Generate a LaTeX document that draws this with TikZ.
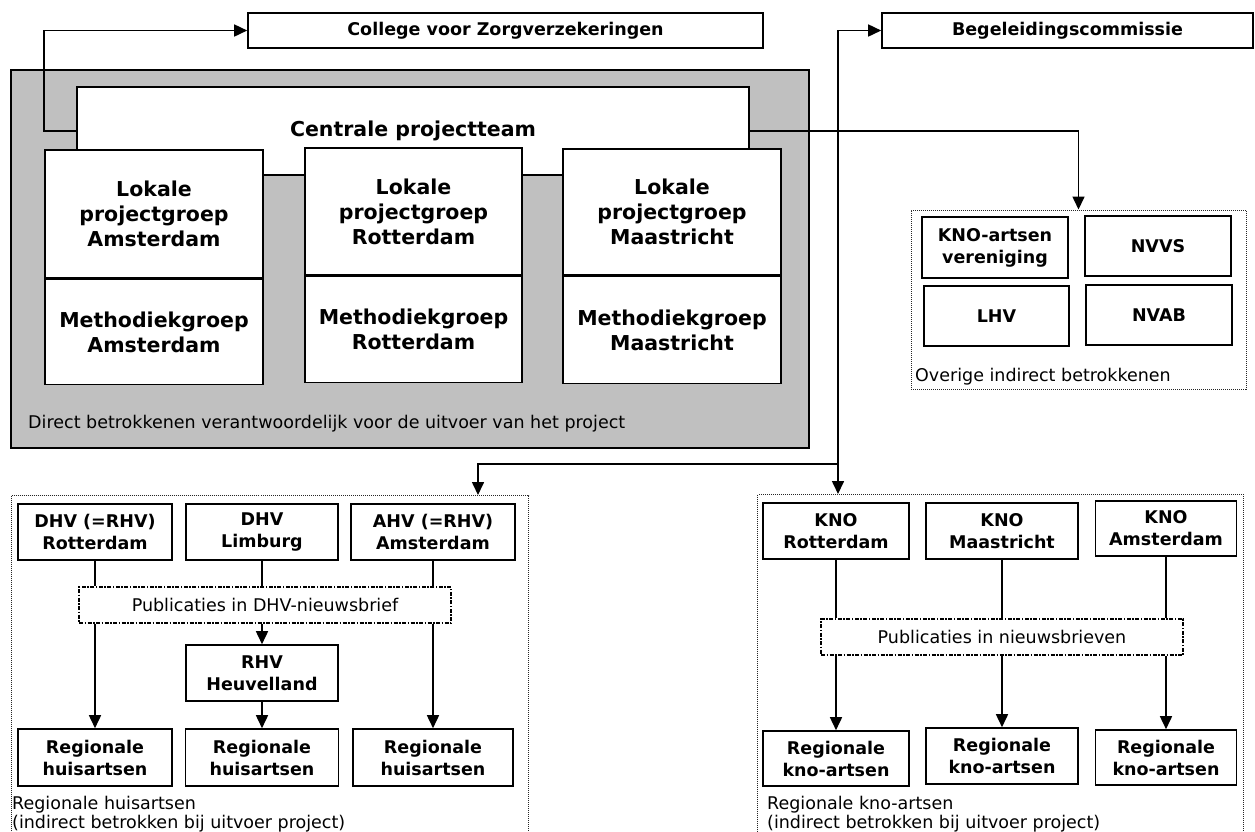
\documentclass[tikz,border=0pt]{standalone}
\usepackage{fontspec}
\setmainfont{DejaVu Sans}
\usetikzlibrary{arrows.meta,positioning}
\definecolor{panelgray}{HTML}{C0C0C0}
\newcommand\bigbold{\fontsize{20.5}{25}\selectfont\bfseries}
\newcommand\smallbold{\fontsize{17.5}{22}\selectfont\bfseries}
\newcommand\plaintxt{\fontsize{17.5}{19.5}\selectfont}

\begin{document}
\begin{tikzpicture}[x = 1pt, y = -1pt,
    box/.style = {draw, fill = white, line width = 1.6pt, align = center, inner sep = 0pt, font = \smallbold},
    bigbox/.style = {box, font = \bigbold},
    grp/.style = {draw = black!85, line width = 1pt, dash pattern = on 1pt off 1pt},
    pub/.style = {draw, fill = white, line width = 1.6pt, dash pattern = on 4pt off 1.5pt on 1.5pt off 1.5pt, inner sep = 0pt, font = \plaintxt},
    note/.style = {anchor = west, align = left, inner sep = 0pt, font = \plaintxt},
    lin/.style = {line width = 1.6pt},
    arr/.style = {line width = 1.6pt, -{Triangle[length = 13pt, width = 12pt]}}]
    \useasboundingbox[fill = white] (0,0) rectangle (1255,831);

    % direct betrokkenen
    \draw[fill = panelgray, line width = 1.6pt] (11,70) rectangle (809,448);
    \node[note] (direct) at (28,424) {Direct betrokkenen verantwoordelijk voor de uitvoer van het project};
    \node[bigbox, minimum width = 672pt, minimum height = 88pt] (cpt) at (413,131) {Centrale projectteam};
    \node[bigbox, minimum width = 218pt, minimum height = 128pt] (lokA) at (154,214) {Lokale\\projectgroep\\Amsterdam};
    \node[bigbox, minimum width = 218pt, minimum height = 105pt, below = 0pt of lokA] (metA) {Methodiekgroep\\Amsterdam};
    \node[bigbox, minimum width = 217pt, minimum height = 127pt] (lokR) at (413.5,211.5) {Lokale\\projectgroep\\Rotterdam};
    \node[bigbox, minimum width = 217pt, minimum height = 106pt, below = 0pt of lokR] (metR) {Methodiekgroep\\Rotterdam};
    \node[bigbox, minimum width = 218pt, minimum height = 126pt] (lokM) at (672,212) {Lokale\\projectgroep\\Maastricht};
    \node[bigbox, minimum width = 218pt, minimum height = 107pt, below = 0pt of lokM] (metM) {Methodiekgroep\\Maastricht};

    % top
    \node[box, minimum width = 515pt, minimum height = 35pt] (cvz) at (505.5,30.5) {College voor Zorgverzekeringen};
    \node[box, minimum width = 371pt, minimum height = 35pt] (bgc) at (1067.5,30.5) {Begeleidingscommissie};

    % overige
    \node[grp, minimum width = 335pt, minimum height = 179pt] (ovr) at (1078.5,299.5) {};
    \node[note] (ovrlab) at (915,377) {Overige indirect betrokkenen};
    \node[box, minimum width = 146pt, minimum height = 61pt] (knov) at (995,247.5) {KNO-artsen\\vereniging};
    \node[box, minimum width = 146pt, minimum height = 60pt] (nvvs) at (1158,246) {NVVS};
    \node[box, minimum width = 145pt, minimum height = 60pt] (lhv) at (996.5,316) {LHV};
    \node[box, minimum width = 146pt, minimum height = 60pt] (nvab) at (1159,315) {NVAB};

    % huisartsen
    \node[grp, anchor = north west, minimum width = 517pt, minimum height = 360pt] (hgrp) at (11,495) {};
    \node[box, minimum width = 154pt, minimum height = 56pt] (dhvr) at (95,532) {DHV (=RHV)\\Rotterdam};
    \node[box, minimum width = 152pt, minimum height = 56pt] (dhvl) at (262,532) {DHV\\Limburg};
    \node[box, minimum width = 164pt, minimum height = 56pt] (ahv) at (433,532) {AHV (=RHV)\\Amsterdam};
    \node[pub, minimum width = 372pt, minimum height = 36pt] (pubd) at (265,605) {Publicaties in DHV-nieuwsbrief};
    \node[box, minimum width = 152pt, minimum height = 56pt] (rhv) at (262,673) {RHV\\Heuvelland};
    \node[box, minimum width = 154pt, minimum height = 57pt] (rha) at (95,757.5) {Regionale\\huisartsen};
    \node[box, minimum width = 153pt, minimum height = 57pt] (rhb) at (262,757.5) {Regionale\\huisartsen};
    \node[box, minimum width = 160pt, minimum height = 57pt] (rhc) at (433,757.5) {Regionale\\huisartsen};
    \node[note] (hlab) at (12,814) {Regionale huisartsen\\(indirect betrokken bij uitvoer project)};

    % kno-artsen
    \node[grp, anchor = north west, minimum width = 486pt, minimum height = 360pt] (kgrp) at (757,494) {};
    \node[box, minimum width = 146pt, minimum height = 56pt] (knor) at (836,531) {KNO\\Rotterdam};
    \node[box, minimum width = 152pt, minimum height = 56pt] (knom) at (1002,531) {KNO\\Maastricht};
    \node[box, minimum width = 141pt, minimum height = 55pt] (knoa) at (1166,528.5) {KNO\\Amsterdam};
    \node[pub, minimum width = 362pt, minimum height = 36pt] (pubk) at (1002,637) {Publicaties in nieuwsbrieven};
    \node[box, minimum width = 146pt, minimum height = 55pt] (rka) at (836,758.5) {Regionale\\kno-artsen};
    \node[box, minimum width = 152pt, minimum height = 56pt] (rkb) at (1002,756) {Regionale\\kno-artsen};
    \node[box, minimum width = 141pt, minimum height = 55pt] (rkc) at (1166,757.5) {Regionale\\kno-artsen};
    \node[note] (klab) at (767,814) {Regionale kno-artsen\\(indirect betrokken bij uitvoer project)};

    % connectors
    \coordinate (jn) at (838,464);
    \coordinate (hin) at (478,495);
    \draw[arr] (cpt.west) -- ++(-32,0) |- (cvz.west);
    \draw[arr] (cpt.east) -| (ovr.north);
    \draw[arr] (jn) |- (bgc.west);
    \draw[arr] (jn) -- (jn |- kgrp.north);
    \draw[arr] (jn) -| (hin);

    \draw[lin] (dhvr.south) -- (dhvr.south |- pubd.north);
    \draw[arr] (dhvr.south |- pubd.south) -- (rha.north);
    \draw[lin] (dhvl.south) -- (dhvl.south |- pubd.north);
    \draw[arr] (dhvl.south |- pubd.south) -- (rhv.north);
    \draw[arr] (rhv.south) -- (rhb.north);
    \draw[lin] (ahv.south) -- (ahv.south |- pubd.north);
    \draw[arr] (ahv.south |- pubd.south) -- (rhc.north);

    \draw[lin] (knor.south) -- (knor.south |- pubk.north);
    \draw[arr] (knor.south |- pubk.south) -- (rka.north);
    \draw[lin] (knom.south) -- (knom.south |- pubk.north);
    \draw[arr] (knom.south |- pubk.south) -- (rkb.north);
    \draw[lin] (knoa.south) -- (knoa.south |- pubk.north);
    \draw[arr] (knoa.south |- pubk.south) -- (rkc.north);
\end{tikzpicture}
\end{document}
